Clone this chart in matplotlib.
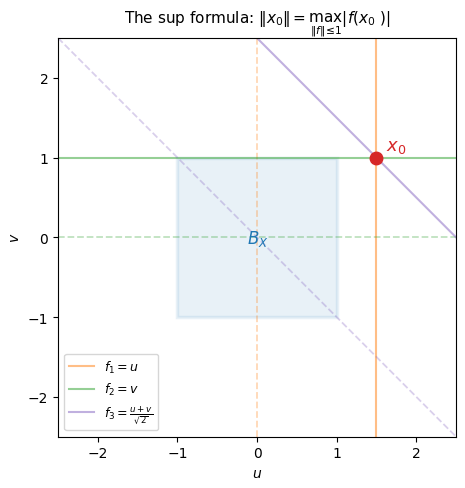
import matplotlib
matplotlib.use("Agg")
import matplotlib.pyplot as plt
import matplotlib.patches as mpatches

lim = [-2.5, 2.5]
ticks = [-2, -1, 0, 1, 2]
x0 = [1.5, 1.0]
ball = [-1, 1]
f1_level = [0, 1.5]
f2_level = [0, 1]
f3_x = [-2.5, 2.5]
f3_low = [2.5, -2.5]
f3_high = [5.0, 0.0]
c1, c2, c3 = "C1", "C2", "#8362c0"
title = r"The sup formula: $\Vert x_0\Vert = \max_{\Vert f\Vert\leq 1} |f(x_0\,)|$"

fig = plt.figure(figsize=(4.65, 4.89), dpi=100)
ax = fig.add_axes([58/465, 1-437.6/489, (456-58)/465, (437.6-39)/489])
ax.add_patch(mpatches.Rectangle((ball[0], ball[0]), ball[1]-ball[0], ball[1]-ball[0],
                                fc="C0", ec="C0", alpha=0.1, lw=2.5))
ax.axvline(f1_level[0], color=c1, ls="--", lw=1.3, alpha=0.3)
ax.axvline(f1_level[1], color=c1, lw=1.5, alpha=0.5, label=r"$f_1 = u$")
ax.axhline(f2_level[0], color=c2, ls="--", lw=1.3, alpha=0.3)
ax.axhline(f2_level[1], color=c2, lw=1.5, alpha=0.5, label=r"$f_2 = v$")
ax.plot(f3_x, f3_low, color=c3, ls="--", lw=1.3, alpha=0.3)
ax.plot(f3_x, f3_high, color=c3, lw=1.5, alpha=0.5, label=r"$f_3 = \frac{u+v}{\sqrt{2}}$")
ax.plot([x0[0]], [x0[1]], "o", color="C3", ms=9, zorder=5)
ax.text(1.62, 1.1, r"$x_0$", color="C3", fontsize=13)
ax.text(-0.12, -0.07, r"$B_X$", color="C0", fontsize=12)
ax.set_xlim(lim); ax.set_ylim(lim)
ax.set_xticks(ticks); ax.set_yticks(ticks)
ax.set_xlabel(r"$u$"); ax.set_ylabel(r"$v$")
ax.set_title(title, fontsize=11)
ax.legend(loc="lower left", fontsize=9)
fig.savefig("out.png", dpi=100)
